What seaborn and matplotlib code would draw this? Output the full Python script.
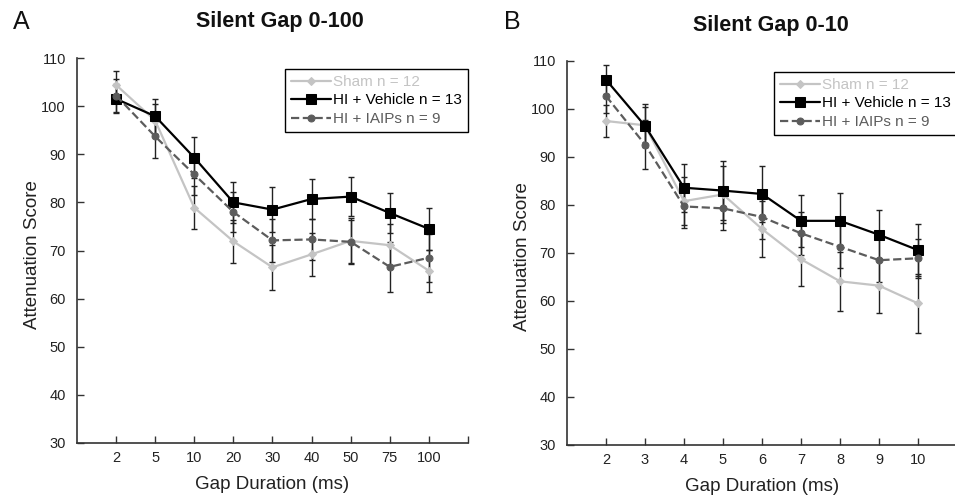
import pandas as pd
import numpy as np
import seaborn as sns
import matplotlib.pyplot as plt

# 数据
gaps_a = ['2', '5', '10', '20', '30', '40', '50', '75', '100']
sham_a = [104.4, 97.0, 78.9, 71.9, 66.5, 69.2, 72.0, 71.1, 65.8]
sham_a_sem = [3.0, 3.5, 4.5, 4.4, 4.7, 4.5, 4.8, 4.5, 4.4]
veh_a = [101.5, 97.9, 89.3, 80.0, 78.5, 80.7, 81.2, 77.8, 74.5]
veh_a_sem = [3.0, 3.6, 4.3, 4.3, 4.6, 4.1, 4.0, 4.2, 4.3]
iaip_a = [102.2, 93.7, 85.8, 78.0, 72.1, 72.3, 71.8, 66.6, 68.5]
iaip_a_sem = [3.5, 4.4, 4.3, 4.2, 4.5, 4.3, 4.5, 5.2, 5.0]

gaps_b = ['2', '3', '4', '5', '6', '7', '8', '9', '10']
sham_b = [97.5, 96.6, 80.8, 82.2, 75.0, 68.7, 64.1, 63.2, 59.5]
sham_b_sem = [3.3, 3.8, 5.0, 6.0, 5.8, 5.5, 6.1, 5.6, 6.1]
veh_b = [106.1, 96.5, 83.6, 83.0, 82.3, 76.7, 76.7, 73.8, 70.6]
veh_b_sem = [3.0, 4.5, 5.0, 6.1, 5.9, 5.4, 5.7, 5.1, 5.4]
iaip_b = [102.7, 92.6, 79.7, 79.3, 77.5, 74.1, 71.3, 68.5, 68.9]
iaip_b_sem = [3.6, 5.2, 4.5, 4.5, 4.5, 4.5, 4.5, 4.5, 4.1]

labels = ['Sham n = 12', 'HI + Vehicle n = 13', 'HI + IAIPs n = 9']
colors = ['#c4c4c4', '#000000', '#5c5c5c']
markers = ['D', 's', 'o']
msizes = [4.5, 6.5, 5]
lstyles = ['-', '-', '--']

sns.set_theme(style='ticks')
plt.rcParams['font.family'] = ['Liberation Sans', 'DejaVu Sans']
plt.rcParams['xtick.direction'] = 'in'
plt.rcParams['ytick.direction'] = 'in'

fig = plt.figure(figsize=(9.55, 5.0), dpi=100)
ax1 = fig.add_axes([0.0806, 0.114, 0.4094, 0.77])
ax2 = fig.add_axes([0.5937, 0.110, 0.4084, 0.768])


def panel(ax, gaps, means, sems):
    pos = np.arange(1, len(gaps) + 1)
    # 误差线
    for m, s in zip(means, sems):
        ax.errorbar(pos, m, yerr=s, fmt='none', ecolor='#222222', elinewidth=1.0,
                    capsize=2.5, capthick=1.0, zorder=1)
    handles = []
    for i, (m, lab) in enumerate(zip(means, labels)):
        df = pd.DataFrame({'pos': pos, 'score': m})
        sns.lineplot(data=df, x='pos', y='score', ax=ax, color=colors[i], marker=markers[i],
                     markersize=msizes[i], markeredgecolor=colors[i], linestyle=lstyles[i],
                     linewidth=1.6, zorder=2 + i)
        handles.append(ax.get_lines()[-1])
    ax.set_xlim(0, 10)
    ax.set_ylim(30, 110)
    ax.set_xticks(range(1, 11))
    ax.set_xticklabels(gaps + [''])
    ax.set_yticks(range(30, 111, 10))
    ax.tick_params(axis='both', labelsize=10.5, length=5, width=1, color='#333333',
                   labelcolor='#222222')
    ax.tick_params(axis='y', pad=8)
    ax.tick_params(axis='x', pad=6)
    sns.despine(ax=ax)
    for sp in ['left', 'bottom']:
        ax.spines[sp].set_color('#333333')
        ax.spines[sp].set_linewidth(1.2)
    ax.set_xlabel('Gap Duration (ms)', fontsize=13.5, color='#222222', va='center')
    ax.set_ylabel('Attenuation Score', fontsize=13.5, color='#222222', va='center')
    ax.xaxis.set_label_coords(0.5, -0.108)
    ax.yaxis.set_label_coords(-0.115, 0.49)
    leg = ax.legend(handles, labels, loc='upper right', bbox_to_anchor=(1.0, 0.972),
                    frameon=True, fancybox=False, edgecolor='black', framealpha=1,
                    borderaxespad=0, fontsize=11, handlelength=2.6, handletextpad=0.15,
                    labelspacing=0.3, borderpad=0.4)
    leg.get_frame().set_linewidth(1.0)
    for t, c in zip(leg.get_texts(), colors):
        t.set_color(c)


panel(ax1, gaps_a, [sham_a, veh_a, iaip_a], [sham_a_sem, veh_a_sem, iaip_a_sem])
panel(ax2, gaps_b, [sham_b, veh_b, iaip_b], [sham_b_sem, veh_b_sem, iaip_b_sem])

fig.text(21 / 955, 1 - 22 / 500, 'A', fontsize=18, ha='center', va='center', color='#111111')
fig.text(512 / 955, 1 - 22 / 500, 'B', fontsize=18, ha='center', va='center', color='#111111')
fig.text(280 / 955, 1 - 21 / 500, 'Silent Gap 0-100', fontsize=15.5, fontweight='bold',
         ha='center', va='center', color='#111111')
fig.text(771 / 955, 1 - 25 / 500, 'Silent Gap 0-10', fontsize=15.5, fontweight='bold',
         ha='center', va='center', color='#111111')

fig.savefig('out.png', dpi=100)
